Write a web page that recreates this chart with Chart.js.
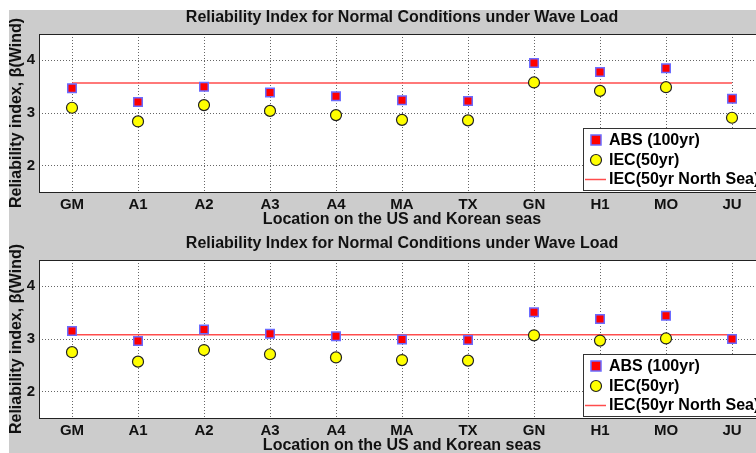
<!DOCTYPE html>
<html>
<head>
<meta charset="utf-8">
<script src="https://cdn.jsdelivr.net/npm/chart.js@4.4.1/dist/chart.umd.min.js"></script>
<style>
  html, body { margin: 0; padding: 0; background: #fff; width: 756px; height: 453px; overflow: hidden; }
  #bg { position: absolute; left: 9px; top: 10px; width: 800px; height: 460px; background: #cccccc; }
  .box { position: absolute; left: 0; width: 800px; height: 240px; }
</style>
</head>
<body>
<div id="bg"></div>
<div class="box" style="top:0px"><canvas id="topChart"></canvas></div>
<div class="box" style="top:226px"><canvas id="bottomChart"></canvas></div>
<script>
var locations = ['GM', 'A1', 'A2', 'A3', 'A4', 'MA', 'TX', 'GN', 'H1', 'MO', 'JU'];
var yTicks = [2, 3, 4];
var chartTitle = 'Reliability Index for Normal Conditions under Wave Load';

// upper panel
var absTop = [3.47, 3.21, 3.50, 3.39, 3.32, 3.24, 3.23, 3.95, 3.78, 3.85, 3.27];
var iecTop = [3.10, 2.84, 3.15, 3.04, 2.96, 2.87, 2.86, 3.58, 3.42, 3.49, 2.91];
var northSeaTop = [3.57, 3.57, 3.57, 3.57, 3.57, 3.57, 3.57, 3.57, 3.57, 3.57, 3.57];

// lower panel (JU IEC sits behind the legend)
var absBottom = [3.15, 2.96, 3.18, 3.10, 3.05, 2.99, 2.98, 3.51, 3.38, 3.44, 3.00];
var iecBottom = [2.75, 2.57, 2.79, 2.71, 2.65, 2.60, 2.59, 3.07, 2.97, 3.01, 2.58];
var northSeaBottom = [3.08, 3.08, 3.08, 3.08, 3.08, 3.08, 3.08, 3.08, 3.08, 3.08, 3.08];

var FONT = 'Arial, "Liberation Sans", sans-serif';

var whiteArea = {
  id: 'whiteArea',
  beforeDraw: function(chart) {
    var a = chart.chartArea, c = chart.ctx;
    c.save();
    c.fillStyle = '#ffffff';
    c.fillRect(a.left, a.top, a.right - a.left, a.bottom - a.top);
    c.restore();
  },
  afterDatasetsDraw: function(chart) {
    var a = chart.chartArea, c = chart.ctx;
    c.save();
    c.strokeStyle = '#222';
    c.lineWidth = 1;
    c.strokeRect(a.left + 0.5, a.top + 0.5, a.right - a.left, a.bottom - a.top);
    // title centred over the axes, like matlab does
    c.font = 'bold 16px ' + FONT;
    c.fillStyle = '#111';
    c.textAlign = 'center';
    c.textBaseline = 'middle';
    c.fillText(chartTitle, (a.left + a.right) / 2, 17.5);
    c.restore();
  }
};

// MATLAB-style legend box in the lower right corner
var boxLegend = {
  id: 'boxLegend',
  afterDraw: function(chart) {
    var a = chart.chartArea, c = chart.ctx;
    var x0 = 583, y0 = a.top + 94, w = 180, h = 62;
    c.save();
    c.fillStyle = '#fff';
    c.strokeStyle = '#333';
    c.lineWidth = 1;
    c.fillRect(x0, y0, w, h);
    c.strokeRect(x0 + 0.5, y0 + 0.5, w, h);
    c.font = 'bold 16px ' + FONT;
    c.textBaseline = 'middle';
    var ds = chart.data.datasets;
    var rows = [y0 + 12, y0 + 32, y0 + 51];
    // ABS square
    c.fillStyle = ds[0].backgroundColor;
    c.strokeStyle = ds[0].borderColor;
    c.lineWidth = 1.5;
    c.fillRect(x0 + 8, rows[0] - 5, 10, 10);
    c.strokeRect(x0 + 8, rows[0] - 5, 10, 10);
    // IEC circle
    c.beginPath();
    c.arc(x0 + 13, rows[1], 5.5, 0, Math.PI * 2);
    c.fillStyle = ds[1].backgroundColor;
    c.fill();
    c.lineWidth = 1.2;
    c.strokeStyle = ds[1].borderColor;
    c.stroke();
    // North Sea line
    c.beginPath();
    c.moveTo(x0 + 2, rows[2] + 0.5);
    c.lineTo(x0 + 23, rows[2] + 0.5);
    c.strokeStyle = ds[2].borderColor;
    c.lineWidth = 1.5;
    c.stroke();
    c.fillStyle = '#000';
    for (var i = 0; i < 3; i++) c.fillText(ds[i].label, x0 + 26, rows[i] + 1);
    c.restore();
  }
};

function makeChart(id, absVals, iecVals, seaVals) {
  return new Chart(document.getElementById(id), {
    type: 'line',
    data: {
      labels: locations,
      datasets: [{
        label: 'ABS (100yr)',
        data: absVals,
        showLine: false,
        pointStyle: 'rect',
        pointRadius: 6,
        pointBorderWidth: 1.5,
        backgroundColor: '#ff0000',
        borderColor: '#6b6bff',
        order: 1
      }, {
        label: 'IEC(50yr)',
        data: iecVals,
        showLine: false,
        pointStyle: 'circle',
        pointRadius: 5.5,
        pointBorderWidth: 1.2,
        backgroundColor: '#ffff00',
        borderColor: '#222222',
        order: 2
      }, {
        label: 'IEC(50yr North Sea)',
        data: seaVals,
        borderColor: '#ff4d4d',
        borderWidth: 1.5,
        pointRadius: 0,
        fill: false,
        order: 3
      }]
    },
    options: {
      responsive: false,
      animation: false,
      layout: { padding: { left: 0, right: 35, top: 34, bottom: 0 } },
      plugins: {
        legend: { display: false },
        tooltip: { enabled: false },
        title: { display: false }
      },
      scales: {
        x: {
          offset: true,
          afterFit: function(s) { s.height = 48; },
          grid: { display: true, offset: false, color: '#666', drawTicks: false },
          border: { display: false, dash: [1, 2] },
          ticks: { color: '#111', padding: 4, font: { family: FONT, size: 15, weight: 'bold' } },
          title: {
            display: true,
            text: 'Location on the US and Korean seas',
            color: '#111',
            font: { family: FONT, size: 16, weight: 'bold' },
            padding: { top: 0, bottom: 11 }
          }
        },
        y: {
          min: 1.5,
          max: 4.5,
          afterFit: function(s) { s.width = 39; },
          afterBuildTicks: function(s) { s.ticks = yTicks.map(function(v) { return { value: v }; }); },
          grid: { color: '#666', drawTicks: false },
          border: { display: false, dash: [1, 2] },
          ticks: { color: '#111', padding: 4, font: { family: FONT, size: 15, weight: 'bold' } },
          title: {
            display: true,
            text: 'Reliability index, \u03b2(Wind)',
            color: '#111',
            font: { family: FONT, size: 16, weight: 'bold' },
            padding: { top: 7, bottom: 0 }
          }
        }
      }
    },
    plugins: [whiteArea, boxLegend]
  });
}

document.getElementById('topChart').width = 800;
document.getElementById('topChart').height = 240;
document.getElementById('bottomChart').width = 800;
document.getElementById('bottomChart').height = 240;
makeChart('topChart', absTop, iecTop, northSeaTop);
makeChart('bottomChart', absBottom, iecBottom, northSeaBottom);
</script>
</body>
</html>
